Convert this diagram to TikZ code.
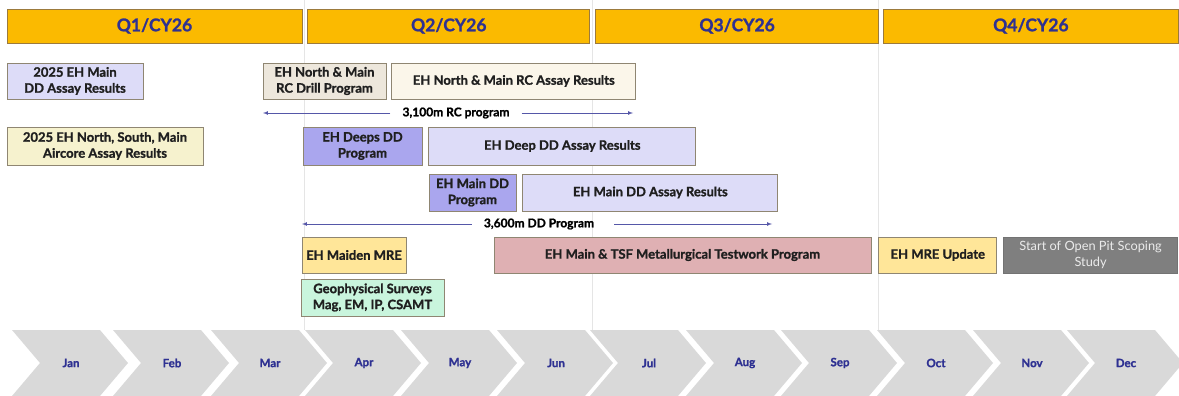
\documentclass[tikz,border=0pt]{standalone}
\usepackage{fontspec}
\setmainfont{Lato}[BoldFeatures={FakeBold=1.2}]
\usetikzlibrary{arrows, positioning}
\definecolor{qgold}{HTML}{FBBA00}
\definecolor{qedge}{HTML}{9C7A3C}
\definecolor{qtext}{HTML}{2E3192}
\definecolor{boxedge}{HTML}{8F8672}
\definecolor{lav}{HTML}{DDDCF8}
\definecolor{prog}{HTML}{AAA6EE}
\definecolor{drill}{HTML}{EDE7DC}
\definecolor{cream}{HTML}{FBF6EA}
\definecolor{aircore}{HTML}{F6F2CE}
\definecolor{mre}{HTML}{FFE699}
\definecolor{geo}{HTML}{C9F5DD}
\definecolor{metal}{HTML}{DFB0B3}
\definecolor{scope}{HTML}{7F7F7F}
\definecolor{chev}{HTML}{D9D9D9}
\definecolor{spanblue}{HTML}{5557A8}
\tikzset{
  quarter/.style={draw=qedge,fill=qgold,text=qtext,line width=0.8,minimum height=34,font=\fontsize{17.5}{20}\selectfont\bfseries},
  task/.style={draw=boxedge,line width=0.8,text=black!88,align=center,inner sep=0,font=\fontsize{13}{16}\selectfont\bfseries},
  spanlbl/.style={inner xsep=12,inner ysep=0,font=\fontsize{12}{14}\selectfont\bfseries},
  span/.style={spanblue,line width=0.7,-latex},
  month/.style={text=qtext,font=\fontsize{11.5}{12}\selectfont\bfseries},
  divider/.style={black!10,line width=0.5},
}

\begin{document}
\begin{tikzpicture}[x=1pt,y=-1pt]
	    \useasboundingbox (0,0) rectangle (1179,396);
	    \foreach \qx in {304,592,878}
	      \draw[divider] (\qx,0) -- (\qx,330);
	    % quarters
	    \node[quarter,minimum width=295] (Q1) at (154.5,26) {Q1/CY26};
	    \node[quarter,minimum width=282,right=5pt of Q1] (Q2) {Q2/CY26};
	    \node[quarter,minimum width=283,right=5pt of Q2] (Q3) {Q3/CY26};
	    \node[quarter,minimum width=295,right=4pt of Q3] (Q4) {Q4/CY26};
	    % programs and results
	    \node[task,fill=lav,minimum width=136,minimum height=36] (ddres) at (75,81) {2025 EH Main\\DD Assay Results};
	    \node[task,fill=drill,minimum width=123,minimum height=36] (rcdrill) at (324.5,81) {EH North \& Main\\RC Drill Program};
	    \node[task,fill=cream,minimum width=244,minimum height=36,right=5pt of rcdrill] (rcres) {EH North \& Main RC Assay Results};
	    \node[task,fill=aircore,minimum width=196,minimum height=38] (aircore) at (105,146) {2025 EH North, South, Main\\Aircore Assay Results};
	    \node[task,fill=prog,minimum width=119,minimum height=38] (deepsprog) at (362.5,146) {EH Deeps DD\\Program};
	    \node[task,fill=lav,minimum width=267,minimum height=38,right=6pt of deepsprog] (deepres) {EH Deep DD Assay Results};
	    \node[task,fill=prog,minimum width=87,minimum height=37] (mainprog) at (472.5,192.5) {EH Main DD\\Program};
	    \node[task,fill=lav,minimum width=255,minimum height=37,right=6pt of mainprog] (mainres) {EH Main DD Assay Results};
	    \node[task,fill=mre,minimum width=104,minimum height=36] (maiden) at (354,255) {EH Maiden MRE};
	    \node[task,fill=geo,minimum width=143,minimum height=37] (geo) at (372.5,297.5) {Geophysical Surveys\\Mag, EM, IP, CSAMT};
	    \node[task,fill=metal,minimum width=377,minimum height=36] (met) at (682.5,255) {EH Main \& TSF Metallurgical Testwork Program};
	    \node[task,fill=mre,minimum width=118,minimum height=36,right=7pt of met] (mreupd) {EH MRE Update};
	    \node[task,fill=scope,draw=black!55,text=black!8,minimum width=174,minimum height=36,right=6pt of mreupd,font=\fontsize{12.8}{16}\selectfont] (scoping) {Start of Open Pit Scoping\\Study};
	    % drilling spans
	    \node[spanlbl] (RClbl) at (456,113) {3,100m RC program};
	    \coordinate (RCl) at (263,113);
	    \coordinate (RCr) at (633,113);
	    \draw[span] (RClbl.west) -- (RCl);
	    \draw[span] (RClbl.east) -- (RCr);
	    \node[spanlbl] (DDlbl) at (539,224) {3,600m DD Program};
	    \coordinate (DDl) at (302,224);
	    \coordinate (DDr) at (772,224);
	    \draw[span] (DDlbl.west) -- (DDl);
	    \draw[span,shorten <=8pt] (DDlbl.east) -- (DDr);
	    % months
	    \foreach \cx/\m in {12/Jan,113/Feb,211/Mar,305/Apr,401/May,497/Jun,590/Jul,686/Aug,781/Sep,877/Oct,973/Nov,1067/Dec} {
	      \fill[chev] (\cx,330) -- ++(88,0) -- ++(28,33) -- ++(-28,33) -- ++(-88,0) -- ++(28,-33) -- cycle;
	      \node[month] (\m) at (\cx+59,363) {\m};
	    }
	\end{tikzpicture}
\end{document}
